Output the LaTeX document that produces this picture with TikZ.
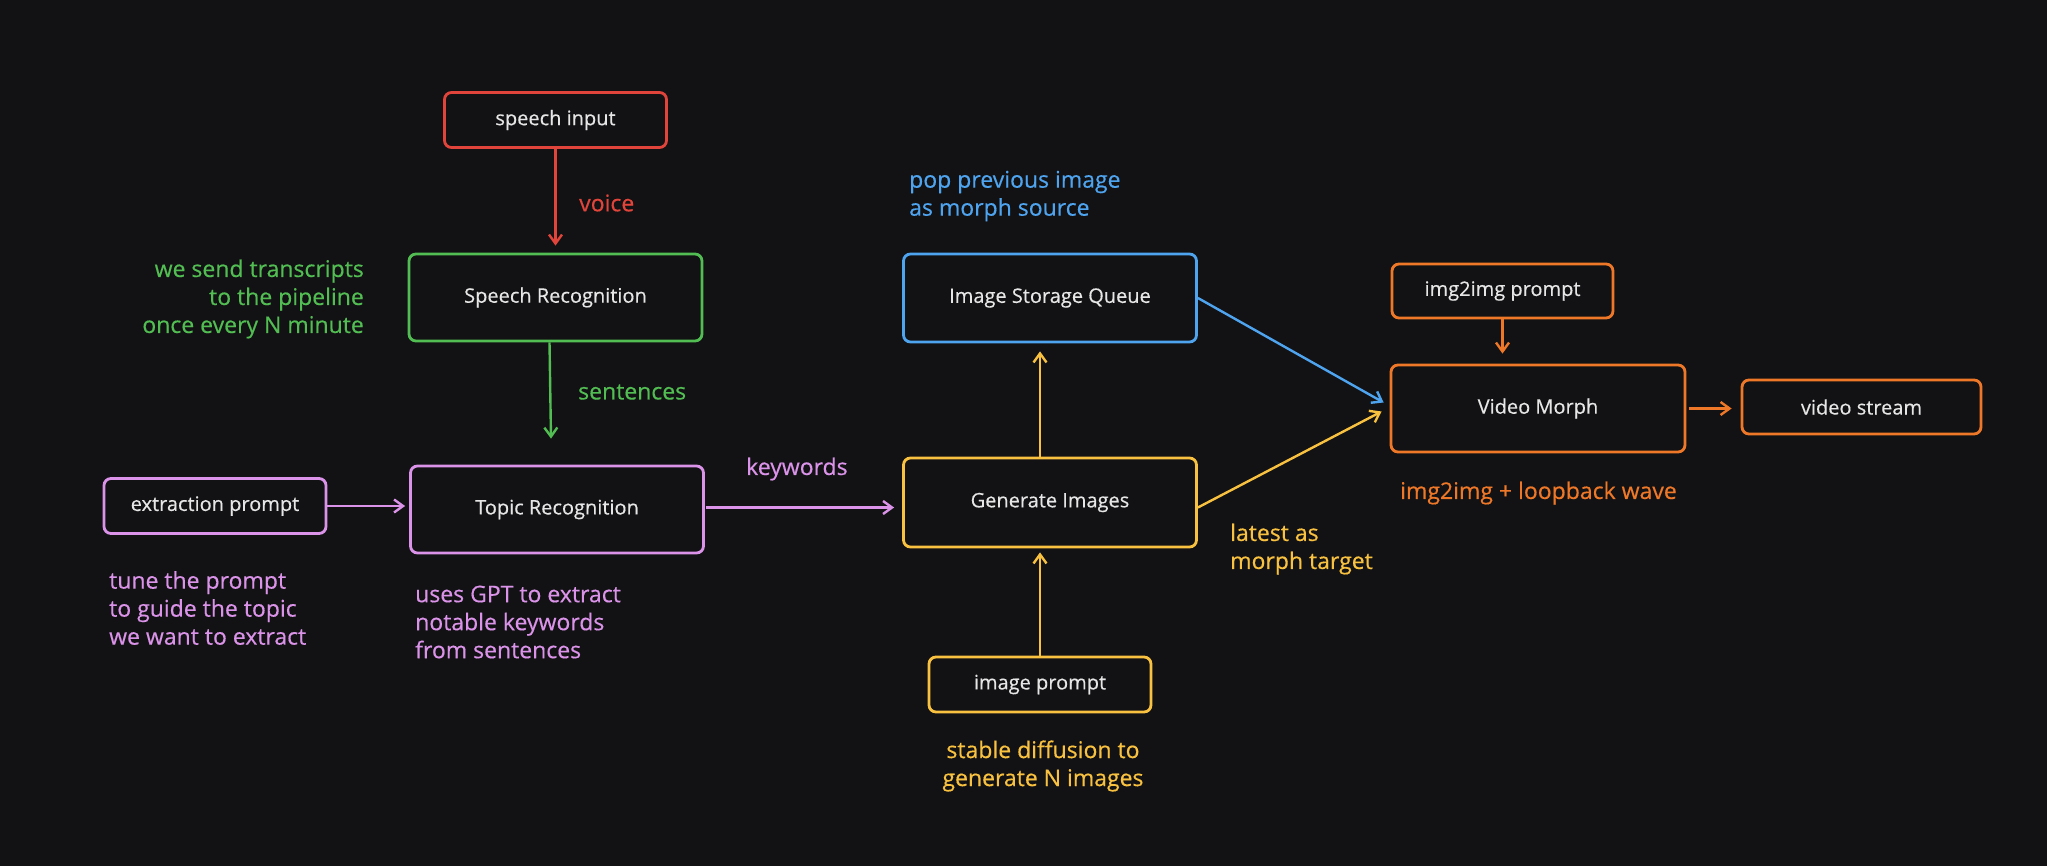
\documentclass[tikz,border=0pt]{standalone}
\usepackage{fontspec}
\setmainfont{Open Sans}[FakeBold=0.4]
\usetikzlibrary{arrows.meta}
\definecolor{bg}{HTML}{121214}
\definecolor{cred}{HTML}{E0443A}
\definecolor{cgreen}{HTML}{52BD52}
\definecolor{cpurple}{HTML}{DA93E8}
\definecolor{cblue}{HTML}{4FA4F0}
\definecolor{cyellow}{HTML}{F9C140}
\definecolor{corange}{HTML}{EF7828}
\definecolor{ctext}{HTML}{E6E6E6}
\begin{document}
\begin{tikzpicture}[x=1pt,y=-1pt,
  box/.style={draw, line width=2.8pt, rounded corners=7pt, text=ctext,
    font=\fontsize{20}{24}\selectfont, inner sep=0pt},
  smallbox/.style={box, minimum width=222pt, minimum height=55pt},
  bigbox/.style={box, minimum width=293pt, minimum height=87pt},
  arr/.style={line width=2.4pt, -{Straight Barb[length=9pt,width=13pt]}},
  note/.style={font=\fontsize{23}{28}\selectfont, inner sep=0pt}
]
\fill[bg] (0,0) rectangle (2047,866);
\useasboundingbox (0,0) rectangle (2047,866);

% nodes
\node[smallbox, draw=cred] (si) at (555.5,120) {speech input};
\node[bigbox, draw=cgreen] (sr) at (555.5,297.5) {Speech Recognition};
\node[bigbox, draw=cpurple] (tr) at (557,509.5) {Topic Recognition};
\node[smallbox, draw=cpurple] (ep) at (215,506) {extraction prompt};
\node[bigbox, draw=cyellow, minimum height=89pt] (gen) at (1050,502.5) {Generate Images};
\node[bigbox, draw=cblue, minimum height=88pt] (isq) at (1050,298) {Image Storage Queue};
\node[smallbox, draw=cyellow] (ip) at (1040,684.5) {image prompt};
\node[smallbox, draw=corange, minimum width=221pt, minimum height=54pt] (ip2) at (1502.5,291) {img2img prompt};
\node[bigbox, draw=corange, minimum width=294pt] (vm) at (1538,408.5) {Video Morph};
\node[smallbox, draw=corange, minimum width=239pt, minimum height=54pt] (vs) at (1861.5,407) {video stream};

% helper coordinates
\coordinate (srend) at ([yshift=7pt]sr.north);
\coordinate (trend) at ([xshift=-6pt,yshift=26pt]tr.north);
\coordinate (isqend) at ([yshift=-8pt]isq.south);
\coordinate (genend) at ([yshift=-4pt]gen.south);
\coordinate (vmtop) at ([yshift=10pt]vm.north);

% connectors
\draw[arr, cred] (si.south) -- (srend);
\draw[arr, cgreen] ([xshift=-6pt]sr.south) -- (trend);
\draw[arr, cpurple, shorten >=4pt] (ep.east) -- (ep.east -| tr.west);
\draw[arr, cpurple, shorten <=1pt, shorten >=8pt] ([yshift=2pt]tr.east) -- ([yshift=2pt]tr.east -| gen.west);
\draw[arr, cyellow] ([xshift=-10pt]gen.north) -- ([xshift=-10pt]isqend);
\draw[arr, cyellow] (ip.north) -- (ip.north |- genend);
\draw[arr, cblue] (isq.east) -- ([xshift=-6pt,yshift=6pt]vm.west);
\draw[arr, cyellow] ([yshift=-5pt]gen.east) -- ([xshift=-8pt,yshift=-3pt]vm.west);
\draw[arr, corange] (ip2.south) -- (ip2.south |- vmtop);
\draw[arr, corange, shorten <=3pt, shorten >=9pt] (vm.east) -- (vm.east -| vs.west);

% labels
\node[note, text=cred, anchor=west] (lvoice) at (579,203) {voice};
\node[note, text=cgreen, anchor=east, align=right] (lgreen) at (364,299) {we send transcripts\\to the pipeline\\once every N minute};
\node[note, text=cgreen, anchor=west] (lsent) at (578,392) {sentences};
\node[note, text=cpurple, anchor=west] (lkey) at (746,469) {keywords};
\node[note, text=cpurple, anchor=west, align=left] (ltune) at (109,608) {tune the prompt\\to guide the topic\\we want to extract};
\node[note, text=cpurple, anchor=west, align=left] (lgpt) at (415,622) {uses GPT to extract\\notable keywords\\from sentences};
\node[note, text=cblue, anchor=west, align=left] (lpop) at (909,196) {pop previous image\\as morph source};
\node[note, text=cyellow, anchor=west, align=left] (llat) at (1230,549) {latest as\\morph target};
\node[note, text=cyellow, align=center] (lsd) at (1043,766) {stable diffusion to\\generate N images};
\node[note, text=corange, anchor=west] (lloop) at (1400,493) {img2img + loopback wave};
\end{tikzpicture}
\end{document}
